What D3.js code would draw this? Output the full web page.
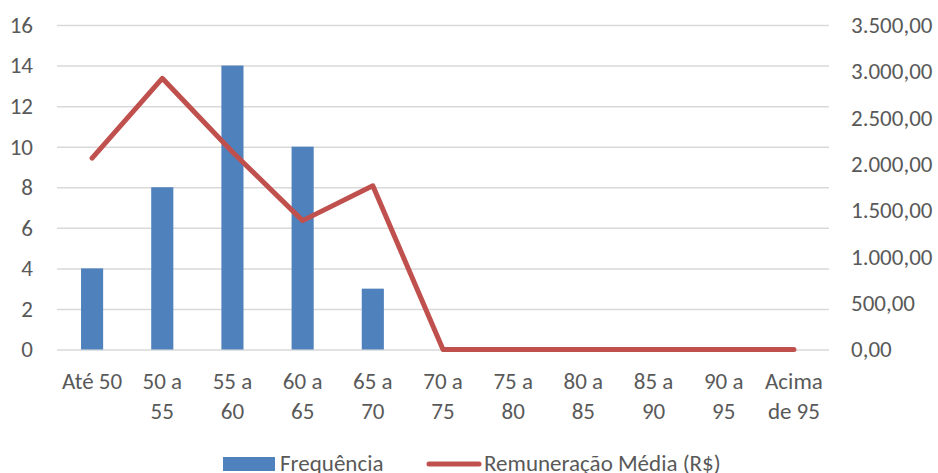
<!DOCTYPE html>
<html>
<head>
<meta charset="utf-8">
<script src="https://cdn.jsdelivr.net/npm/d3@7"></script>
<style>
  body { margin: 0; background: #fff; }
  svg text { font-family: Carlito, Calibri, Lato, sans-serif; fill: #595959; }
</style>
</head>
<body>
<div id="chart"></div>
<script>
const categories = ["Até 50", "50 a 55", "55 a 60", "60 a 65", "65 a 70", "70 a 75",
    "75 a 80", "80 a 85", "85 a 90", "90 a 95", "Acima de 95"];
const frequencia = [4, 8, 14, 10, 3, 0, 0, 0, 0, 0, 0];
const remuneracao = [2065, 2925, 2130, 1390, 1765, 0, 0, 0, 0, 0, 0];
const leftTicks = [0, 2, 4, 6, 8, 10, 12, 14, 16];
const rightTicks = [0, 500, 1000, 1500, 2000, 2500, 3000, 3500];

// x labels broken on two lines like the original
const labelLines = {
    "Até 50": ["Até 50"],
    "Acima de 95": ["Acima", "de 95"]
};

function drawChart() {
    const margin = {top: 25, right: 109, bottom: 123.5, left: 57},
        width = 938 - margin.left - margin.right,
        height = 473 - margin.top - margin.bottom;

    const fs = "23px";

    const svg = d3.select("#chart")
        .append("svg")
        .attr("width", 938)
        .attr("height", 473);

    const g = svg.append("g")
        .attr("transform", `translate(${margin.left},${margin.top})`);

    const x = d3.scaleBand()
        .domain(categories)
        .range([0, width])
        .padding(0);

    const yLeft = d3.scaleLinear().domain([0, 16]).range([height, 0]);
    const yRight = d3.scaleLinear().domain([0, 3500]).range([height, 0]);

    const br = d3.formatLocale({decimal: ",", thousands: ".", grouping: [3], currency: ["R$", ""]});
    const fmt = br.format(",.2f");

    // gridlines
    g.append("g")
        .call(d3.axisLeft(yLeft).tickValues(leftTicks).tickSize(-width).tickFormat(""))
        .call(a => a.select(".domain").remove())
        .selectAll("line")
        .attr("stroke", "#d9d9d9")
        .attr("stroke-width", 1.5);

    // left axis labels
    g.append("g")
        .call(d3.axisLeft(yLeft).tickValues(leftTicks).tickSize(0).tickPadding(24))
        .call(a => a.select(".domain").remove())
        .selectAll("text")
        .style("font-size", fs)
        .attr("fill", "#595959");

    // right axis labels
    g.append("g")
        .attr("transform", `translate(${width},0)`)
        .call(d3.axisRight(yRight).tickValues(rightTicks).tickSize(0).tickPadding(22).tickFormat(fmt))
        .call(a => a.select(".domain").remove())
        .selectAll("text")
        .style("font-size", fs)
        .attr("fill", "#595959");

    // x axis labels
    const xa = g.append("g")
        .attr("transform", `translate(0,${height})`)
        .call(d3.axisBottom(x).tickSize(0).tickFormat(""))
        .call(a => a.select(".domain").remove());

    xa.selectAll(".tick").each(function(d) {
        const lines = labelLines[d] || [d.split(" ").slice(0, 2).join(" "), d.split(" ").slice(2).join(" ")];
        const t = d3.select(this).append("text")
            .attr("text-anchor", "middle")
            .attr("fill", "#595959")
            .style("font-size", fs);
        lines.forEach((l, i) => {
            t.append("tspan").attr("x", 0).attr("y", 39 + i * 30).text(l);
        });
    });

    // bars
    const barW = x.step() * 0.315;
    g.append("g")
        .selectAll("rect")
        .data(frequencia)
        .enter()
        .append("rect")
        .attr("x", (d, i) => x(categories[i]) + x.bandwidth() / 2 - barW / 2)
        .attr("y", d => yLeft(d))
        .attr("width", barW)
        .attr("height", d => height - yLeft(d))
        .attr("fill", "#4f81bd");

    // line
    const line = d3.line()
        .x((d, i) => x(categories[i]) + x.bandwidth() / 2)
        .y(d => yRight(d));

    g.append("path")
        .datum(remuneracao)
        .attr("d", line)
        .attr("fill", "none")
        .attr("stroke", "#c0504d")
        .attr("stroke-width", 5)
        .attr("stroke-linecap", "round")
        .attr("stroke-linejoin", "round");

    // legend
    const leg = svg.append("g");
    leg.append("rect")
        .attr("x", 223).attr("y", 457)
        .attr("width", 52).attr("height", 14)
        .attr("fill", "#4f81bd");
    leg.append("text")
        .attr("x", 280).attr("y", 471)
        .style("font-size", fs)
        .text("Frequência");
    leg.append("line")
        .attr("x1", 429).attr("x2", 479)
        .attr("y1", 464).attr("y2", 464)
        .attr("stroke", "#c0504d")
        .attr("stroke-width", 5)
        .attr("stroke-linecap", "round");
    leg.append("text")
        .attr("x", 484).attr("y", 471)
        .style("font-size", fs)
        .text("Remuneração Média (R$)");
}

drawChart();
</script>
</body>
</html>
